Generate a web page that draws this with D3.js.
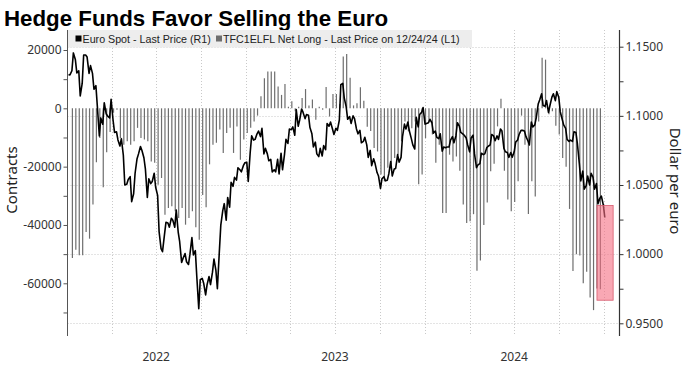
<!DOCTYPE html>
<html><head><meta charset="utf-8">
<script src="https://cdn.jsdelivr.net/npm/d3@7"></script>
<style>
html,body{margin:0;padding:0;background:#fff;}
svg{display:block;}
</style></head>
<body>
<svg id="chart" width="687" height="366"></svg>
<script>
const fx2022 = [1.1297,1.1296,1.1326,1.1455,1.1408,1.1311,1.1326,1.1144,1.1234,1.1440,1.1440,1.1425,1.1307,1.1363,1.1307,1.1192,1.1218,1.1065,1.0855,1.0985,1.0940,1.1095,1.1015,1.0998,1.0985,1.1120,1.0970,1.0880,1.0885,1.0826,1.0782,1.0835,1.0715,1.0500,1.0505,1.0540,1.0560,1.0380,1.0437,1.0585,1.0690,1.0725,1.0778,1.0750,1.0697,1.0617,1.0410,1.0545,1.0510,1.0525,1.0585,1.0484,1.0425,1.0163,1.0040,1.0018,1.0141,1.0230,1.0225,1.0195,1.0260,1.0245,1.0195,1.0318,1.0160,1.0090,0.9940,0.9970,1.0005,0.9945,0.9925,1.0000,1.0120,0.9995,1.0025,0.9837,0.9605,0.9815,0.9825,0.9790,0.9705,0.9780,0.9838,0.9780,0.9870,0.9965,0.9882,0.9750,1.0018,1.0210,1.0315,1.0365,1.0245,1.0410,1.0340,1.0520,1.0490,1.0555,1.0535,1.0625,1.0610,1.0595,1.0640,1.0660];
const fx2023 = [1.0665,1.0525,1.0735,1.0855,1.0825,1.0830,1.0870,1.0890,1.0850,1.0910,1.0725,1.0765,1.0725,1.0675,1.0685,1.0595,1.0610,1.0595,1.0685,1.0580,1.0730,1.0610,1.0720,1.0830,1.0800,1.0905,1.0900,1.0920,1.0860,1.1045,1.0925,1.0970,1.1050,1.1025,1.0980,1.1010,1.1005,1.0915,1.0870,1.0775,1.0810,1.0725,1.0705,1.0765,1.0710,1.0785,1.0755,1.0945,1.0925,1.0955,1.0905,1.0865,1.0910,1.0895,1.0970,1.1225,1.1235,1.1130,1.1065,1.0975,1.0995,1.0945,1.1000,1.0980,1.0905,1.0870,1.0895,1.0805,1.0815,1.0845,1.0790,1.0700,1.0750,1.0640,1.0690,1.0655,1.0590,1.0565,1.0475,1.0545,1.0560,1.0530,1.0535,1.0580,1.0670,1.0565,1.0615,1.0620,1.0720,1.0665,1.0700,1.0850,1.0940,1.0905,1.0955,1.0890,1.0835,1.0790,1.0760,1.0990,1.0920,1.1010,1.1025,1.1060];
const fx2024 = [1.0940,1.0945,1.0950,1.0975,1.0950,1.0875,1.0890,1.0845,1.0835,1.0870,1.0745,1.0775,1.0770,1.0775,1.0775,1.0825,1.0850,1.0805,1.0855,1.0950,1.0925,1.0880,1.0870,1.0860,1.0840,1.0790,1.0740,1.0840,1.0860,1.0725,1.0625,1.0645,1.0655,1.0730,1.0720,1.0725,1.0770,1.0780,1.0790,1.0865,1.0855,1.0820,1.0855,1.0830,1.0905,1.0890,1.0765,1.0740,1.0735,1.0700,1.0735,1.0700,1.0740,1.0810,1.0825,1.0865,1.0895,1.0895,1.0890,1.0850,1.0820,1.0790,1.0955,1.0920,1.0935,1.0985,1.1085,1.1115,1.1160,1.1075,1.1070,1.1110,1.1025,1.1075,1.1135,1.1160,1.1110,1.1175,1.1135,1.1030,1.0975,1.0935,1.0910,1.0830,1.0815,1.0825,1.0815,1.0885,1.0880,1.0800,1.0655,1.0530,1.0600,1.0470,1.0495,1.0565,1.0500,1.0585,1.0555,1.0470,1.0510,1.0365,1.0405,1.0420,1.0355,1.0265];
const fxStarts = ["2022-01-03","2023-01-02","2024-01-01"];

// TFC1ELFL net long (left axis), weekly from 2022-01-11
const netLongStart = "2022-01-11";
const netLong = [-51300,-48500,-50400,-50400,-42400,-44700,-33000,-18500,-10200,-27100,-15100,-8100,-1500,-500,-10200,-12500,-11300,-12500,-11300,-6700,-10200,-10700,-11300,-18200,-18700,-26200,-23900,-36500,-34200,-33600,-35300,-37600,-34200,-39900,-37600,-35300,-40800,-45100,-29700,-33900,-19200,-12500,-11800,-7300,-15300,-8500,-6700,-15300,-6200,-17600,-10700,-8500,-6700,-4500,-2500,4100,10300,12600,12600,12600,7500,4600,8300,500,2400,-1000,500,3500,6600,1000,3000,-3900,500,-500,7300,-2800,4900,4900,1500,17800,18600,10500,1000,1700,7200,2600,-6300,-7800,-13600,-14800,-22700,-25000,-20400,-19300,-17000,-15900,-11300,-4500,-7900,-6800,-4500,-26000,-22700,-10200,-4500,-9000,-18700,-12500,-35900,-35900,-15900,-18200,-16500,-21400,-33000,-39300,-38700,-36300,-55700,-52200,-40000,-32300,-21600,-19000,-6200,3300,-21400,-31300,-35300,-32100,-25000,-2500,-12500,-36200,-25000,-30200,-4500,17300,16700,-2000,-1000,-6000,-9000,-17000,-20000,-34500,-55800,-50000,-50500,-60000,-56000,-64900,-69200,-61800,-62000];

const leftTicks = [-60000,-40000,-20000,0,20000];
const leftMinor = [-70000,-50000,-30000,-10000,10000];
const rightTicks = [0.95,1.00,1.05,1.10,1.15];
const rightMinor = [0.975,1.025,1.075,1.125];
const yearLabels = ["2022","2023","2024"];
const highlightDates = ["2024-12-17","2025-01-19"];
const highlightRange = [-33300,-65800];
const legendItems = [
  {label:"Euro Spot - Last Price (R1)", color:"#000000"},
  {label:"TFC1ELFL Net Long - Last Price on 12/24/24 (L1)", color:"#6e6e6e"}
];

// build data
function monThu(start, vals){
  let d = new Date(start + "T00:00:00Z");
  return vals.map((v,i)=>{
    const out = {date:d, v:v};
    d = d3.utcDay.offset(d, i%2===0 ? 3 : 4);
    return out;
  });
}
const fxData = [].concat(monThu(fxStarts[0], fx2022), monThu(fxStarts[1], fx2023), monThu(fxStarts[2], fx2024));
const barStart = new Date(netLongStart + "T00:00:00Z");
const barData = netLong.map((v,i)=>({date:d3.utcDay.offset(barStart, 7*i), v:v}));

const svg = d3.select("#chart");
const plotTop = 30, plotBottom = 336;
const x = d3.scaleUtc().domain([new Date("2022-01-01T00:00:00Z"), new Date("2025-02-01T00:00:00Z")]).range([67.5, 619.5]);
const yL = d3.scaleLinear().domain([-60000, 20000]).range([283.3, 50]);
const yR = d3.scaleLinear().domain([0.95, 1.15]).range([323.3, 46.7]);
const xl = x.range()[0], xr = x.range()[1];

// title
svg.append("text").attr("x", 4).attr("y", 26)
  .attr("font-family", "Liberation Sans, Arial, sans-serif").attr("font-weight", "bold")
  .attr("font-size", 22.3).attr("fill", "#000").text("Hedge Funds Favor Selling the Euro");

// gridlines
const grid = svg.append("g").attr("stroke", "#c9c9c9").attr("stroke-width", 1).attr("stroke-dasharray", "1,2");
const quarters = d3.utcMonth.every(3).range(new Date("2022-04-01T00:00:00Z"), new Date("2025-01-02T00:00:00Z"));
grid.selectAll("line.v").data(quarters).join("line")
  .attr("x1", d=>Math.round(x(d))+0.5).attr("x2", d=>Math.round(x(d))+0.5)
  .attr("y1", plotTop).attr("y2", plotBottom);
grid.selectAll("line.h").data(rightTicks).join("line")
  .attr("x1", xl).attr("x2", xr)
  .attr("y1", d=>Math.round(yR(d))+0.5).attr("y2", d=>Math.round(yR(d))+0.5);

// bars
svg.append("g").selectAll("line").data(barData).join("line")
  .attr("x1", d=>x(d.date)).attr("x2", d=>x(d.date))
  .attr("y1", yL(0)).attr("y2", d=>yL(d.v))
  .attr("stroke", "#6e6e6e").attr("stroke-width", 1.2);

// euro line
svg.append("path").datum(fxData)
  .attr("fill", "none").attr("stroke", "#000").attr("stroke-width", 1.6)
  .attr("stroke-linejoin", "round")
  .attr("d", d3.line().x(d=>x(d.date)).y(d=>yR(d.v)));

// highlight box
svg.append("rect")
  .attr("x", x(new Date(highlightDates[0]+"T00:00:00Z")))
  .attr("width", x(new Date(highlightDates[1]+"T00:00:00Z")) - x(new Date(highlightDates[0]+"T00:00:00Z")))
  .attr("y", yL(highlightRange[0]))
  .attr("height", yL(highlightRange[1]) - yL(highlightRange[0]))
  .attr("fill", "rgb(245,110,130)").attr("fill-opacity", 0.6)
  .attr("stroke", "rgb(215,90,110)").attr("stroke-width", 0.8);

// legend
const lg = svg.append("g");
lg.append("rect").attr("x", xl+0.5).attr("y", plotTop).attr("width", 404).attr("height", 17.5).attr("fill", "#ededed");
const legX = [75.5, 216];
legendItems.forEach((it,i)=>{
  lg.append("rect").attr("x", legX[i]).attr("y", 35.5).attr("width", 6).attr("height", 6).attr("fill", it.color);
  lg.append("text").attr("x", legX[i]+7).attr("y", 42.5)
    .attr("font-family", "Liberation Sans, Arial, sans-serif").attr("font-size", 10.7)
    .attr("fill", "#222").text(it.label);
});

// axes lines
svg.append("line").attr("x1", xl).attr("x2", xl).attr("y1", plotTop).attr("y2", plotBottom).attr("stroke", "#555").attr("stroke-width", 1);
svg.append("line").attr("x1", xr).attr("x2", xr).attr("y1", plotTop).attr("y2", plotBottom).attr("stroke", "#333").attr("stroke-width", 1.2);

const fontAxis = "Noto Sans, Open Sans, sans-serif";
// left axis
const gL = svg.append("g").attr("transform", `translate(${xl},0)`)
  .call(d3.axisLeft(yL).tickValues(leftTicks).tickSize(4).tickPadding(2).tickFormat(d=>String(d)));
gL.call(g=>g.select(".domain").remove());
gL.selectAll("text").attr("font-family", fontAxis).attr("font-size", 12).attr("fill", "#333");
gL.selectAll("line").attr("stroke", "#555");
const gLm = svg.append("g").attr("transform", `translate(${xl},0)`)
  .call(d3.axisLeft(yL).tickValues(leftMinor).tickSize(4).tickFormat(""));
gLm.call(g=>g.select(".domain").remove());
gLm.selectAll("line").attr("stroke", "#555");

// right axis
const gR = svg.append("g").attr("transform", `translate(${xr},0)`)
  .call(d3.axisRight(yR).tickValues(rightTicks).tickSize(4).tickPadding(2).tickFormat(d3.format(".4f")));
gR.call(g=>g.select(".domain").remove());
gR.selectAll("text").attr("font-family", fontAxis).attr("font-size", 12).attr("fill", "#333");
gR.selectAll("line").attr("stroke", "#333");
const gRm = svg.append("g").attr("transform", `translate(${xr},0)`)
  .call(d3.axisRight(yR).tickValues(rightMinor).tickSize(4).tickFormat(""));
gRm.call(g=>g.select(".domain").remove());
gRm.selectAll("line").attr("stroke", "#333");

// year labels
svg.append("g").selectAll("text").data(yearLabels).join("text")
  .attr("x", d=>x(new Date(d+"-07-01T00:00:00Z"))).attr("y", 361)
  .attr("text-anchor", "middle").attr("font-family", fontAxis).attr("font-size", 12)
  .attr("fill", "#333").text(d=>d);

// axis titles
svg.append("text").attr("transform", "translate(17,180) rotate(-90)")
  .attr("text-anchor", "middle").attr("font-family", fontAxis).attr("font-size", 15)
  .attr("fill", "#222").text("Contracts");
svg.append("text").attr("transform", "translate(670,181) rotate(90)")
  .attr("text-anchor", "middle").attr("font-family", fontAxis).attr("font-size", 15)
  .attr("fill", "#222").text("Dollar per euro");
</script>
</body></html>
